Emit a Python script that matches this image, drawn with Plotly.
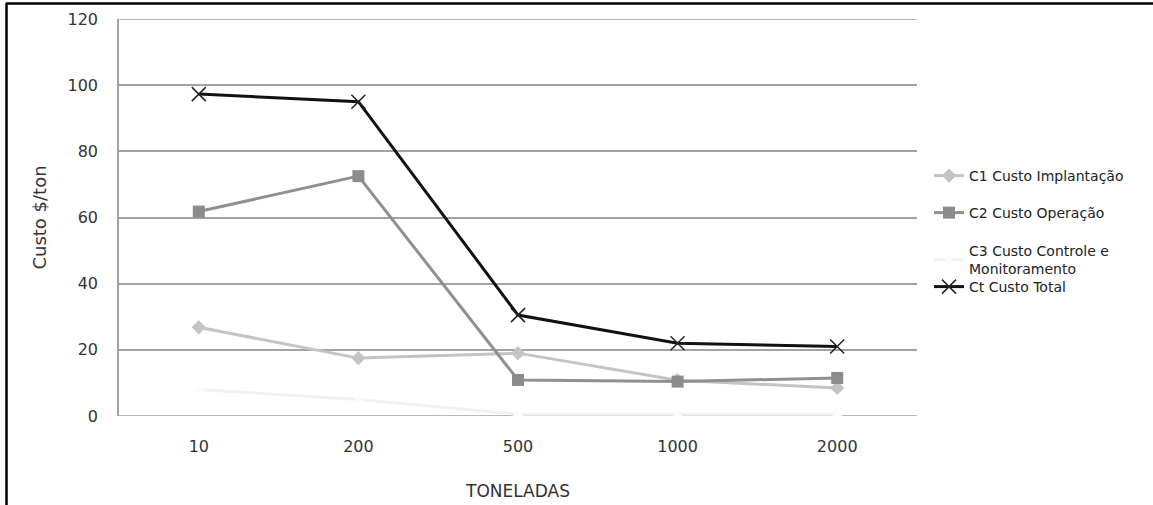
import plotly.graph_objects as go

categories = ["10", "200", "500", "1000", "2000"]
c1_implantacao = [26.8, 17.5, 19.0, 10.8, 8.5]
c2_operacao = [61.8, 72.5, 10.9, 10.4, 11.5]
c3_controle = [8.0, 5.0, 0.5, 0.4, 0.5]
ct_total = [97.3, 95.0, 30.5, 22.0, 21.0]
y_ticks = [0, 20, 40, 60, 80, 100, 120]

FONT = "DejaVu Sans"
GRID = "#a3a3a3"
W, H = 1153, 505
L, R, T, B = 119, 236, 19, 89
plot_h = H - T - B


def ypaper(px):
    return (H - B - px) / plot_h


def xpaper(px):
    return (px - L) / (W - L - R)


fig = go.Figure()
fig.add_trace(go.Scatter(
    x=categories, y=c1_implantacao, name="C1 Custo Implantação", mode="lines+markers",
    line=dict(color="#c4c4c4", width=3),
    marker=dict(symbol="diamond", size=11, color="#c4c4c4"),
    legend="legend"))
fig.add_trace(go.Scatter(
    x=categories, y=c2_operacao, name="C2 Custo Operação", mode="lines+markers",
    line=dict(color="#909090", width=3),
    marker=dict(symbol="square", size=12, color="#8c8c8c"),
    legend="legend2"))
fig.add_trace(go.Scatter(
    x=categories, y=c3_controle, name="C3 Custo Controle e<br>Monitoramento", mode="lines+markers",
    line=dict(color="#f1f1f1", width=3),
    marker=dict(symbol="triangle-up", size=10, color="#fbfbfb"),
    legend="legend3"))
fig.add_trace(go.Scatter(
    x=categories, y=ct_total, name="Ct Custo Total", mode="lines+markers",
    line=dict(color="#111111", width=3),
    marker=dict(symbol="x-thin", size=14, color="#222222", line=dict(width=1.5, color="#222222")),
    legend="legend4"))

leg_common = dict(font=dict(family=FONT, size=14, color="#222222"),
                  bgcolor="rgba(0,0,0,0)", borderwidth=0, xanchor="left", yanchor="middle")
lx = xpaper(929)

edge_lines = [
    dict(type="line", xref="paper", yref="y", x0=0, x1=1, y0=v, y1=v, layer="below",
         line=dict(color=GRID, width=1.5))
    for v in (y_ticks[0], y_ticks[-1])
]

fig.update_layout(
    width=W, height=H,
    margin=dict(l=L, r=R, t=T, b=B, autoexpand=False),
    paper_bgcolor="white", plot_bgcolor="white",
    font=dict(family=FONT, color="#333333"),
    showlegend=True,
    legend=dict(x=lx, y=ypaper(176), **leg_common),
    legend2=dict(x=lx, y=ypaper(213), **leg_common),
    legend3=dict(x=lx, y=ypaper(260), **leg_common),
    legend4=dict(x=lx, y=ypaper(287), **leg_common),
    xaxis=dict(
        type="category", range=[-0.5, 4.5], showgrid=False, zeroline=False,
        showline=False, ticks="", tickfont=dict(family=FONT, size=16, color="#333333"),
        ticklabelstandoff=19,
        title=dict(text="TONELADAS", font=dict(family=FONT, size=17, color="#333333"), standoff=30),
    ),
    yaxis=dict(
        range=[0, 120], tickvals=y_ticks, showgrid=True, gridcolor=GRID, gridwidth=1.5,
        zeroline=False, showline=True, linecolor=GRID, linewidth=1.5, ticks="",
        tickfont=dict(family=FONT, size=16, color="#333333"), ticklabelstandoff=16,
        title=dict(text="Custo $/ton", font=dict(family=FONT, size=18, color="#333333"), standoff=16),
    ),
    shapes=edge_lines + [
        dict(type="line", xref="paper", yref="paper", x0=xpaper(6), x1=xpaper(1153),
             y0=ypaper(3.5), y1=ypaper(3.5), line=dict(color="black", width=2.5)),
        dict(type="line", xref="paper", yref="paper", x0=xpaper(6.5), x1=xpaper(6.5),
             y0=ypaper(3), y1=ypaper(505), line=dict(color="black", width=2.5)),
    ],
)

fig.write_html("out.html")
